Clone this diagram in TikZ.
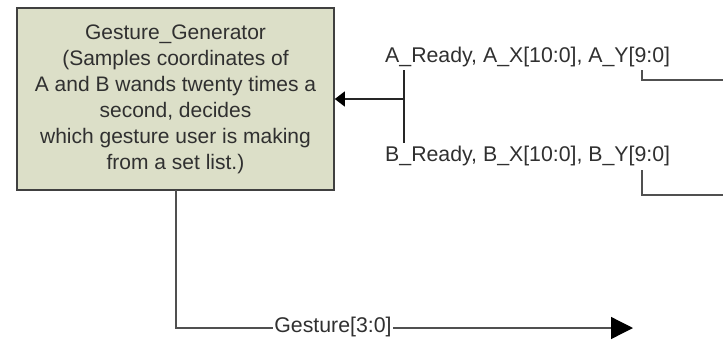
\documentclass[tikz,border=0pt]{standalone}
\usepackage{fontspec}
\setmainfont{Liberation Sans}
\usetikzlibrary{arrows.meta}
\definecolor{boxfill}{HTML}{DCDFC8}
\definecolor{txt}{HTML}{303030}
\definecolor{wire}{HTML}{505050}
\begin{document}
\begin{tikzpicture}[x=1pt,y=-1pt,
  lbl/.style={font=\fontsize{21.3}{26}\selectfont, text=txt, inner sep=0pt},
  wirel/.style={draw=wire, line width=1.3pt},
  genbox/.style={draw=black!75, line width=1.6pt, fill=boxfill, minimum width=317pt, minimum height=182pt, align=center, inner sep=0pt, font=\fontsize{21}{26}\selectfont, text=txt}]
\useasboundingbox (0,0) rectangle (723,341);
\node[genbox] (gen) at (175.5,99) {Gesture\_Generator\\(Samples coordinates of\\A and B wands twenty times a\\second, decides\\which gesture user is making\\from a set list.)};
\node[lbl, anchor=west] (asig) at (385,57) {A\_Ready, A\_X[10:0], A\_Y[9:0]};
\node[lbl, anchor=west] (bsig) at (385,156) {B\_Ready, B\_X[10:0], B\_Y[9:0]};
\coordinate (join) at (404,99);
\coordinate (atop) at (404,70);
\coordinate (bbot) at (404,143);
\coordinate (aout0) at (642,70);
\coordinate (aout1) at (642,80);
\coordinate (aend) at (724,80);
\coordinate (bout0) at (642,170);
\coordinate (bout1) at (642,195);
\coordinate (bend) at (724,195);
\coordinate (gdown) at (176,190);
\coordinate (gcorner) at (176,328);
\coordinate (gend) at (633,328);
\draw[wirel, draw=black!85] (atop) -- (bbot);
\draw[wirel, draw=black!85, -{Triangle[length=10pt,width=15pt,fill=black,color=black]}] (join) -- (gen.east |- join);
\draw[wirel] (aout0) -- (aout1) -- (aend);
\draw[wirel] (bout0) -- (bout1) -- (bend);
\draw[wirel, -{Triangle[length=22pt,width=22pt,fill=black,color=black]}] (gdown) -- (gcorner) -- (gend);
\node[lbl, fill=white, inner xsep=1pt] (gest) at (333,327) {Gesture[3:0]};
\end{tikzpicture}
\end{document}
